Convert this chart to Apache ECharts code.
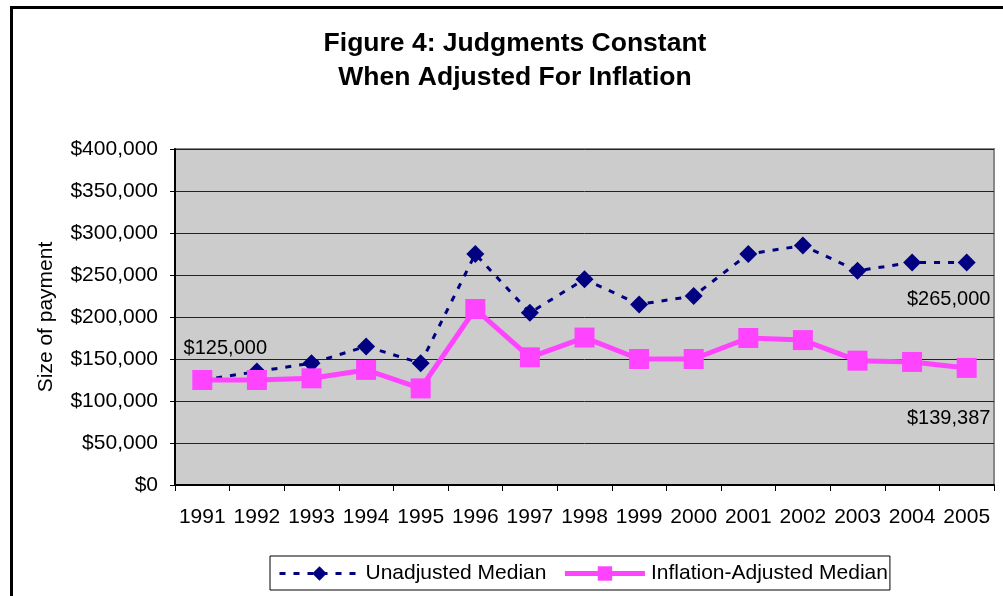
<!DOCTYPE html>
<html>
<head>
<meta charset="utf-8">
<script src="https://cdn.jsdelivr.net/npm/echarts@6/dist/echarts.min.js"></script>
<style>
html,body{margin:0;padding:0;background:#fff;}
#main{width:1003px;height:596px;}
</style>
</head>
<body>
<div id="main"></div>
<script>
const years = ['1991','1992','1993','1994','1995','1996','1997','1998','1999','2000','2001','2002','2003','2004','2005'];
const unadjusted = [125000,135000,145000,165000,145000,275000,205000,245000,215000,225000,275000,285000,255000,265000,265000];
const adjusted = [125000,125000,127000,137000,115000,209500,152000,175500,150000,150000,175000,172500,148000,146500,139387];
const seriesNames = ['Unadjusted Median','Inflation-Adjusted Median'];
const titleText = 'Figure 4: Judgments Constant\nWhen Adjusted For Inflation';
const yAxisName = 'Size of payment';

const fmt = v => '$' + Math.round(v).toString().replace(/\B(?=(\d{3})+(?!\d))/g, ',');
const FONT = 'Liberation Sans, Arial, sans-serif';

function withLabels(arr, labelled) {
  return arr.map((v, i) => {
    if (labelled[i]) return { value: v, label: Object.assign({ show: true, formatter: p => fmt(p.value), color: '#000', fontSize: 20, fontFamily: FONT }, labelled[i]) };
    return v;
  });
}

const uLabels = {};
uLabels[0] = { position: 'top', distance: 13, offset: [23, 0] };
uLabels[years.length - 1] = { position: 'bottom', distance: 18, offset: [-18, 0] };
const aLabels = {};
aLabels[years.length - 1] = { position: 'bottom', distance: 31, offset: [-18, 0] };

const chart = echarts.init(document.getElementById('main'), null, { renderer: 'canvas' });
chart.setOption({
  animation: false,
  backgroundColor: '#fff',
  textStyle: { fontFamily: FONT },
  title: {
    text: titleText,
    left: 510,
    top: 22,
    textAlign: 'center',
    textStyle: { fontSize: 26.5, fontWeight: 'bold', color: '#000', lineHeight: 34, fontFamily: FONT }
  },
  graphic: [{
    type: 'rect', left: 9, top: 5, silent: true,
    shape: { width: 1100, height: 700 },
    style: { fill: 'none', stroke: '#000', lineWidth: 3 }
  }],
  legend: {
    left: 270, top: 556,
    itemWidth: 80, itemHeight: 18, itemGap: 16,
    padding: [7, 2, 6, 8],
    borderColor: '#000', borderWidth: 1,
    textStyle: { fontSize: 21, color: '#000', fontFamily: FONT, padding: [0, 0, 0, 1] },
    data: [
      { name: seriesNames[0], lineStyle: { width: 3, type: [6, 8], color: '#000080' } },
      { name: seriesNames[1], lineStyle: { width: 5, color: '#ff44ff' } }
    ]
  },
  grid: {
    left: 175, right: 9, top: 149, bottom: 111,
    show: true, backgroundColor: '#cccccc', borderColor: '#888', borderWidth: 2,
    containLabel: false
  },
  xAxis: {
    type: 'category', data: years, boundaryGap: true,
    axisLine: { lineStyle: { color: '#000', width: 2 } },
    axisTick: { show: true, length: 6, lineStyle: { color: '#000', width: 1 } },
    axisLabel: { color: '#000', fontSize: 21, margin: 22, fontFamily: FONT, interval: 0 }
  },
  yAxis: {
    type: 'value', min: 0, max: 400000, interval: 50000,
    name: yAxisName, nameLocation: 'middle', nameGap: 118, nameRotate: 90,
    nameTextStyle: { fontSize: 21, color: '#000', fontFamily: FONT },
    axisLine: { show: true, lineStyle: { color: '#000', width: 2 } },
    axisTick: { show: true, length: 5, lineStyle: { color: '#000' } },
    axisLabel: { color: '#000', fontSize: 21, margin: 17, fontFamily: FONT, formatter: fmt },
    splitLine: { show: true, lineStyle: { color: '#222', width: 1 } }
  },
  series: [
    {
      name: seriesNames[0], type: 'line',
      data: withLabels(unadjusted, uLabels),
      symbol: 'diamond', symbolSize: 18,
      itemStyle: { color: '#000080' },
      lineStyle: { color: '#000080', width: 3, type: [6, 8] },
      z: 2
    },
    {
      name: seriesNames[1], type: 'line',
      data: withLabels(adjusted, aLabels),
      symbol: 'rect', symbolSize: 20,
      itemStyle: { color: '#ff44ff' },
      lineStyle: { color: '#ff44ff', width: 5 },
      z: 3
    }
  ]
});
</script>
</body>
</html>
